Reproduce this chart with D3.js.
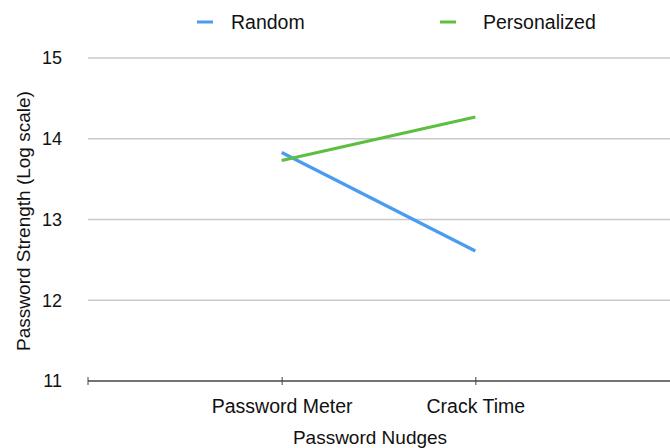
<!DOCTYPE html>
<html lang="en">
<head>
    <meta charset="UTF-8">
    <title></title>
    <style type="text/css">
        html, body { padding:0; margin:0; background:#fff; }
        text { font-family: "Liberation Sans", Arial, sans-serif; fill:#111; }
    </style>
</head>
<body>
<script src="https://d3js.org/d3.v7.min.js"></script>
<script>
    var categories = ['Password Meter', 'Crack Time'];
    var randomVals = [13.83, 12.61];
    var personalizedVals = [13.73, 14.27];
    var yTicks = [11, 12, 13, 14, 15];

    var series = [
        { name: 'Random', values: randomVals, color: '#4b9bf0' },
        { name: 'Personalized', values: personalizedVals, color: '#5cbf3e' }
    ];

    var width = 670, height = 448;
    var plotLeft = 88, plotRight = 669, plotTop = 58, plotBottom = 381;

    var svg = d3.select('body').append('svg')
        .attr('width', width)
        .attr('height', height);

    var x = d3.scalePoint().domain(categories).range([plotLeft, plotRight]).padding(1);
    var y = d3.scaleLinear().domain([11, 15]).range([plotBottom, plotTop]);

    // grid lines
    svg.append('g').selectAll('line')
        .data(yTicks.filter(function(d) { return d > 11; }))
        .enter().append('line')
        .attr('x1', plotLeft).attr('x2', width)
        .attr('y1', function(d) { return y(d); })
        .attr('y2', function(d) { return y(d); })
        .attr('stroke', '#c9c9c9')
        .attr('stroke-width', 1.5);

    // y tick labels
    svg.append('g').selectAll('text')
        .data(yTicks)
        .enter().append('text')
        .attr('x', 62)
        .attr('y', function(d) { return y(d); })
        .attr('dy', '0.35em')
        .attr('text-anchor', 'end')
        .style('font-size', '18px')
        .text(function(d) { return d; });

    // x axis
    var xAxis = d3.axisBottom(x).tickSize(5).tickSizeOuter(0);
    var gx = svg.append('g')
        .attr('transform', 'translate(0,' + plotBottom + ')')
        .call(xAxis);
    gx.select('.domain').remove();
    gx.append('line')
        .attr('x1', plotLeft).attr('x2', width)
        .attr('stroke', '#444').attr('stroke-width', 1.5);
    gx.append('line')
        .attr('x1', plotLeft).attr('x2', plotLeft)
        .attr('y1', -4).attr('y2', 4)
        .attr('stroke', '#444');
    gx.selectAll('.tick line').attr('y1', -4).attr('y2', 4).attr('stroke', '#444');
    gx.selectAll('.tick text')
        .attr('y', 32)
        .attr('dy', 0)
        .style('font-size', '19.5px')
        .style('font-family', '"Liberation Sans", Arial, sans-serif')
        .attr('fill', '#111');

    // lines
    var line = d3.line()
        .x(function(d, i) { return x(categories[i]); })
        .y(function(d) { return y(d); });

    svg.append('g').selectAll('path')
        .data(series)
        .enter().append('path')
        .attr('d', function(s) { return line(s.values); })
        .attr('fill', 'none')
        .attr('stroke', function(s) { return s.color; })
        .attr('stroke-width', 3.2);

    // axis titles
    svg.append('text')
        .attr('x', 370)
        .attr('y', 444)
        .attr('text-anchor', 'middle')
        .style('font-size', '19px')
        .text('Password Nudges');

    svg.append('text')
        .attr('transform', 'translate(30,' + 221 + ') rotate(-90)')
        .attr('text-anchor', 'middle')
        .style('font-size', '19px')
        .text('Password Strength (Log scale)');

    // legend
    var legendX = [197, 440];
    var legend = svg.append('g').selectAll('g')
        .data(series)
        .enter().append('g')
        .attr('transform', function(d, i) { return 'translate(' + legendX[i] + ',22)'; });
    legend.append('line')
        .attr('x1', 0).attr('x2', 16)
        .attr('stroke', function(d) { return d.color; })
        .attr('stroke-width', 3);
    legend.append('text')
        .attr('x', function(d, i) { return i === 0 ? 34 : 43; })
        .attr('dy', '0.35em')
        .style('font-size', '19.5px')
        .text(function(d) { return d.name; });
</script>
</body>
</html>
